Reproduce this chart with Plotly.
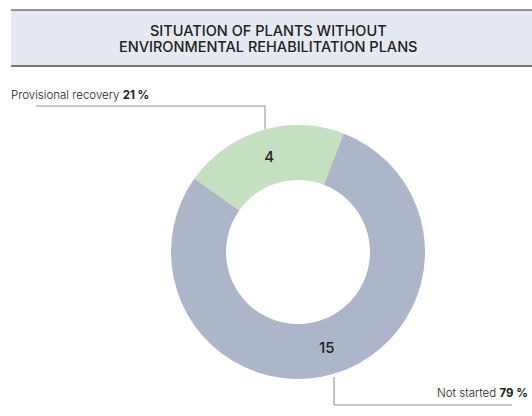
import plotly.graph_objects as go

# Data
categories = ["Provisional recovery", "Not started"]
values = [4, 15]
colors = ["#c5e0c0", "#adb5c9"]
title_lines = ["SITUATION OF PLANTS WITHOUT", "ENVIRONMENTAL REHABILITATION PLANS"]

W, H = 532, 416
total = sum(values)
pcts = [round(v / total * 100) for v in values]

# Donut geometry (pixels)
cx, cy, R = 298, 252, 127
FONT = "Inter"

fig = go.Figure(go.Pie(
    labels=categories,
    values=values,
    hole=0.567,
    sort=False,
    direction="clockwise",
    rotation=-54.7,
    marker=dict(colors=colors, line=dict(width=0)),
    textinfo="value",
    textposition="inside",
    insidetextorientation="horizontal",
    textfont=dict(family=FONT, size=15, color="#222222", weight=500),
    domain=dict(x=[(cx - R) / W, (cx + R) / W], y=[(H - cy - R) / H, (H - cy + R) / H]),
    showlegend=False,
    hoverinfo="label+value+percent",
))

def px(x):
    return x / W

def py(y):
    return 1 - y / H

shapes = [
    # header band
    dict(type="rect", xref="paper", yref="paper", x0=px(11), x1=1.0, y0=py(66), y1=py(10),
         fillcolor="#e7e9f2", line=dict(width=0), layer="below"),
    dict(type="line", xref="paper", yref="paper", x0=px(11), x1=1.0, y0=py(10), y1=py(10),
         line=dict(color="#333333", width=1)),
    dict(type="line", xref="paper", yref="paper", x0=px(11), x1=1.0, y0=py(66), y1=py(66),
         line=dict(color="#777777", width=2)),
    # callout: provisional recovery
    dict(type="line", xref="paper", yref="paper", x0=px(36), x1=px(265), y0=py(106), y1=py(106),
         line=dict(color="#8a8a8a", width=1)),
    dict(type="line", xref="paper", yref="paper", x0=px(265), x1=px(265), y0=py(106), y1=py(129),
         line=dict(color="#8a8a8a", width=1)),
    # callout: not started
    dict(type="line", xref="paper", yref="paper", x0=px(334), x1=px(334), y0=py(377), y1=py(405),
         line=dict(color="#8a8a8a", width=1)),
    dict(type="line", xref="paper", yref="paper", x0=px(334), x1=px(512), y0=py(405), y1=py(405),
         line=dict(color="#8a8a8a", width=1)),
]

annotations = []
for line_text, yc in zip(title_lines, [30.5, 46.5]):
    annotations.append(dict(text=line_text, xref="paper", yref="paper", x=px(268), y=py(yc),
                            xanchor="center", yanchor="middle", showarrow=False,
                            font=dict(family=FONT, size=14.5, color="#222222", weight=500)))
annotations += [
    dict(text=f"{categories[0]} <b>{pcts[0]} %</b>", xref="paper", yref="paper",
         x=px(9), y=py(95), xanchor="left", yanchor="middle", showarrow=False,
         font=dict(family=FONT, size=11.5, color="#222222", weight=300)),
    dict(text=f"{categories[1]} <b>{pcts[1]} %</b>", xref="paper", yref="paper",
         x=px(530), y=py(393), xanchor="right", yanchor="middle", showarrow=False,
         font=dict(family=FONT, size=11.5, color="#222222", weight=300)),
]

fig.update_layout(
    width=W, height=H,
    margin=dict(l=0, r=0, t=0, b=0),
    paper_bgcolor="white",
    plot_bgcolor="white",
    shapes=shapes,
    annotations=annotations,
)

fig.write_html("out.html")
